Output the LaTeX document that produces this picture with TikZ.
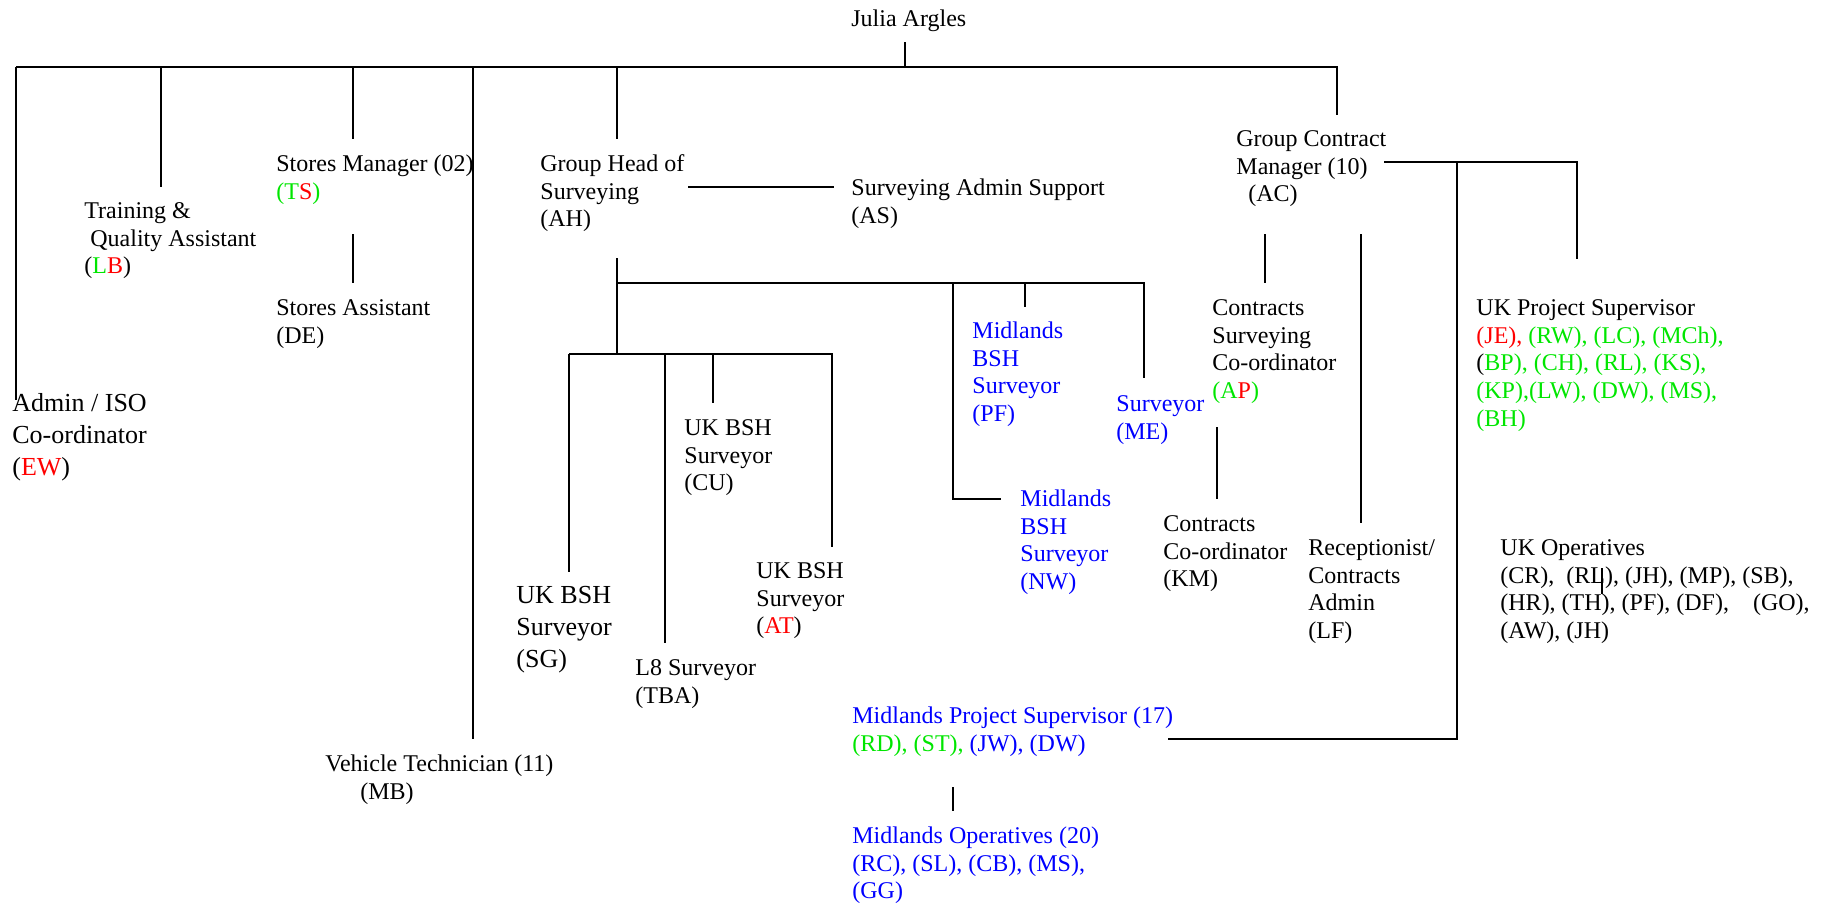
\documentclass[tikz,border=0pt]{standalone}
\usepackage{fontspec}
\setmainfont{Liberation Serif}
\definecolor{cgreen}{RGB}{0,230,0}
\definecolor{cred}{RGB}{255,0,0}
\definecolor{cblue}{RGB}{0,0,255}
\newcommand{\tgreen}[1]{\textcolor{cgreen}{#1}}
\newcommand{\tred}[1]{\textcolor{cred}{#1}}
\begin{document}
\begin{tikzpicture}[x=0.5pt,y=-0.5pt,
  wire/.style={line width=1pt},
  lbl/.style={anchor=north west, inner sep=0pt, align=left, font=\fontsize{12}{13.8}\selectfont},
  big/.style={font=\fontsize{13}{16}\selectfont},
  blu/.style={text=cblue}]
\useasboundingbox (0,0) rectangle (1830,905);

% ---------- nodes ----------
\node[lbl] (julia) at (851,6.7) {\strut Julia Argles};
\node[lbl,big] (admin) at (12,389) {\strut Admin / ISO\\Co-ordinator\\(\tred{EW})};
\node[lbl] (train) at (84,199) {\strut Training \&\\\hspace*{3pt}Quality Assistant\\(\tgreen{L}\tred{B})};
\node[lbl] (smgr) at (276,152) {\strut Stores Manager (02)\\\tgreen{(T}\tred{S}\tgreen{)}};
\node[lbl] (sast) at (276,296) {\strut Stores Assistant\\(DE)};
\node[lbl] (veh) at (325,752) {\strut Vehicle Technician (11)\\\hspace*{17.5pt}(MB)};
\node[lbl] (gh) at (540,152) {\strut Group Head of\\Surveying\\(AH)};
\node[lbl] (as) at (851,176) {\strut Surveying Admin Support\\(AS)};
\node[lbl] (gcm) at (1236,127) {\strut Group Contract\\Manager (10)\\\hspace*{6pt}(AC)};
\node[lbl] (csc) at (1212,296) {\strut Contracts\\Surveying\\Co-ordinator\\\tgreen{(A}\tred{P}\tgreen{)}};
\node[lbl] (ukps) at (1476,296) {\strut UK Project Supervisor\\\tred{(JE),} \tgreen{(RW), (LC), (MCh),}\\(\tgreen{BP), (CH), (RL), (KS),}\\\tgreen{(KP),(LW), (DW), (MS),}\\\tgreen{(BH)}};
\node[lbl,big] (sg) at (516,581) {\strut UK BSH\\Surveyor\\(SG)};
\node[lbl] (l8) at (635,656) {\strut L8 Surveyor\\(TBA)};
\node[lbl] (cu) at (684,416) {\strut UK BSH\\Surveyor\\(CU)};
\node[lbl] (at) at (756,559) {\strut UK BSH\\Surveyor\\(\tred{AT})};
\node[lbl,blu] (pf) at (972,319) {\strut Midlands\\BSH\\Surveyor\\(PF)};
\node[lbl,blu] (me) at (1116,392) {\strut Surveyor\\(ME)};
\node[lbl,blu] (nw) at (1020,487) {\strut Midlands\\BSH\\Surveyor\\(NW)};
\node[lbl] (km) at (1163,512) {\strut Contracts\\Co-ordinator\\(KM)};
\node[lbl] (lf) at (1308,536) {\strut Receptionist/\\Contracts\\Admin\\(LF)};
\node[lbl] (ukop) at (1500,536) {\strut UK Operatives\\(CR),\hspace*{3pt} (RL), (JH), (MP), (SB),\\(HR), (TH), (PF), (DF),\hspace*{9pt} (GO),\\(AW), (JH)};
\node[lbl,blu] (mps) at (852,704) {\strut Midlands Project Supervisor (17)\\\tgreen{(RD), (ST),} (JW), (DW)};
\node[lbl,blu] (mo) at (852,824) {\strut Midlands Operatives (20)\\(RC), (SL), (CB), (MS),\\(GG)};

% ---------- coordinates ----------
\coordinate (jS) at (905,42);
\coordinate (barL) at (16,67);
\coordinate (barR) at (1337,67);
\coordinate (gcmT) at (1337,115);
\coordinate (adminT) at (16,400);
\coordinate (trainT) at (161,187);
\coordinate (smgrT) at (353,139);
\coordinate (smgrB) at (353,234);
\coordinate (sastT) at (353,283);
\coordinate (vehT) at (473,739);
\coordinate (ghT) at (617,139);
\coordinate (ghR) at (688,187);
\coordinate (asL) at (834,187);
\coordinate (ghB) at (617,258);
\coordinate (barA) at (1144,283);
\coordinate (meT) at (1144,378);
\coordinate (pfT) at (1025,307);
\coordinate (nwC) at (953,283);
\coordinate (nwL) at (1001,499);
\coordinate (barBL) at (569,354);
\coordinate (barBR) at (832,354);
\coordinate (sgT) at (569,572);
\coordinate (l8T) at (665,643);
\coordinate (cuT) at (713,403);
\coordinate (atT) at (832,547);
\coordinate (gcmB) at (1265,234);
\coordinate (cscT) at (1265,283);
\coordinate (cscB) at (1217,427);
\coordinate (kmT) at (1217,499);
\coordinate (lfB) at (1361,234);
\coordinate (lfT) at (1361,523);
\coordinate (gcmR) at (1384,162);
\coordinate (ukpsC) at (1577,162);
\coordinate (ukpsT) at (1577,259);
\coordinate (mpsC) at (1457,162);
\coordinate (mpsR) at (1168,739);
\coordinate (mpsB) at (953,787);
\coordinate (moT) at (953,811);
\coordinate (ukopA) at (1602,568);
\coordinate (ukopB) at (1602,594);

% ---------- connectors ----------
\draw[wire] (jS) -- (jS |- barL);
\draw[wire] (barL) -- (barR) -- (gcmT);
\draw[wire] (barL) -- (adminT);
\draw[wire] (trainT |- barL) -- (trainT);
\draw[wire] (smgrT |- barL) -- (smgrT);
\draw[wire] (smgrB) -- (sastT);
\draw[wire] (vehT |- barL) -- (vehT);
\draw[wire] (ghT |- barL) -- (ghT);
\draw[wire] (ghR) -- (asL);
\draw[wire] (ghB) -- (ghB |- barBL);
\draw[wire] (ghB |- barA) -- (barA) -- (meT);
\draw[wire] (pfT |- barA) -- (pfT);
\draw[wire] (nwC) -- (nwC |- nwL) -- (nwL);
\draw[wire] (barBL) -- (barBR) -- (atT);
\draw[wire] (barBL) -- (sgT);
\draw[wire] (l8T |- barBL) -- (l8T);
\draw[wire] (cuT |- barBL) -- (cuT);
\draw[wire] (gcmB) -- (cscT);
\draw[wire] (cscB) -- (kmT);
\draw[wire] (lfB) -- (lfT);
\draw[wire] (gcmR) -- (ukpsC) -- (ukpsT);
\draw[wire] (mpsC) -- (mpsC |- mpsR) -- (mpsR);
\draw[wire] (mpsB) -- (moT);
\draw[wire] (ukopA) -- (ukopB);
\end{tikzpicture}
\end{document}
